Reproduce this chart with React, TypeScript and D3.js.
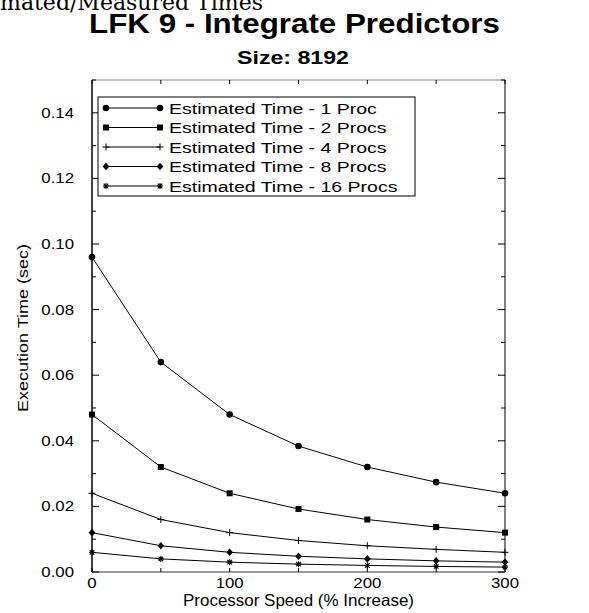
import React from "react";
import * as d3 from "d3";

const speeds = [0, 50, 100, 150, 200, 250, 300];
const seriesNames = [
  "Estimated Time - 1 Proc",
  "Estimated Time - 2 Procs",
  "Estimated Time - 4 Procs",
  "Estimated Time - 8 Procs",
  "Estimated Time - 16 Procs",
];
const proc1 = [0.096, 0.064, 0.048, 0.0384, 0.032, 0.0274, 0.024];
const proc2 = [0.048, 0.032, 0.024, 0.0192, 0.016, 0.0137, 0.012];
const proc4 = [0.024, 0.016, 0.012, 0.0096, 0.008, 0.0069, 0.006];
const proc8 = [0.012, 0.008, 0.006, 0.0048, 0.004, 0.0034, 0.003];
const proc16 = [0.006, 0.004, 0.003, 0.0024, 0.002, 0.0017, 0.0015];
const markers = ["circle", "square", "plus", "diamond", "star"];
const yTicks = [0, 0.02, 0.04, 0.06, 0.08, 0.1, 0.12, 0.14];
const xTicks = [0, 100, 200, 300];

const W = 589, H = 613;
const L = 92, R = 505, T = 80, B = 572;

function Marker({ type, x, y }: { type: string; x: number; y: number }) {
  if (type === "circle") return <circle cx={x} cy={y} r={3.3} fill="#000" />;
  if (type === "square") return <rect x={x - 3} y={y - 3} width={6} height={6} fill="#000" />;
  if (type === "plus")
    return (
      <path d={`M${x - 3.5},${y}H${x + 3.5}M${x},${y - 3.5}V${y + 3.5}`} stroke="#000" strokeWidth={1} />
    );
  if (type === "diamond")
    return <path d={`M${x},${y - 3.8}L${x + 3.3},${y}L${x},${y + 3.8}L${x - 3.3},${y}Z`} fill="#000" />;
  return (
    <path
      d={`M${x - 3},${y}H${x + 3}M${x},${y - 3}V${y + 3}M${x - 2.3},${y - 2.3}L${x + 2.3},${y + 2.3}M${x - 2.3},${y + 2.3}L${x + 2.3},${y - 2.3}`}
      stroke="#000"
      strokeWidth={1.1}
    />
  );
}

export default function App() {
  const x = d3.scaleLinear().domain([0, 300]).range([L, R]);
  const y = d3.scaleLinear().domain([0, 0.15]).range([B, T]);
  const all = [proc1, proc2, proc4, proc8, proc16];
  const line = d3
    .line<number>()
    .x((_, i) => x(speeds[i]))
    .y((d) => y(d));
  const xMinor = d3.range(0, 301, 50);
  const yMinor = d3.range(0, 0.1501, 0.01);
  const font = "'Liberation Sans', Arial, Helvetica, sans-serif";
  const legX = 98, legY = 97, legW = 317, legH = 99;
  return (
    <svg width={W} height={H} style={{ position: "absolute", left: 0, top: 0 }}>
      <rect width={W} height={H} fill="#fff" />
      <text x={263} y={10} textAnchor="end" fontFamily="'DejaVu Serif', 'Liberation Serif', serif" fontSize={22} fill="#000">
        Estimated/Measured Times
      </text>
      <text x={89} y={33} fontFamily={font} fontWeight="bold" fontSize={27.5} textLength={411} lengthAdjust="spacingAndGlyphs">
        LFK 9 - Integrate Predictors
      </text>
      <text x={237} y={64} fontFamily={font} fontWeight="bold" fontSize={18} textLength={112} lengthAdjust="spacingAndGlyphs">
        Size: 8192
      </text>
      {/* frame */}
      <line x1={L} x2={R} y1={T} y2={T} stroke="#888" strokeWidth={1} />
      <line x1={R} x2={R} y1={T} y2={B} stroke="#000" strokeWidth={1} />
      <line x1={L} x2={R} y1={B} y2={B} stroke="#777" strokeWidth={1.5} />
      <line x1={L} x2={L} y1={T} y2={B} stroke="#000" strokeWidth={1.5} />
      {xMinor.map((v) => (
        <g key={"xm" + v}>
          <line x1={x(v)} x2={x(v)} y1={B} y2={B - 4} stroke="#000" />
          <line x1={x(v)} x2={x(v)} y1={T} y2={T + 4} stroke="#000" />
        </g>
      ))}
      {yMinor.map((v, i) => (
        <g key={"ym" + i}>
          <line x1={L} x2={L + (i % 2 === 0 ? 7 : 4)} y1={y(v)} y2={y(v)} stroke="#000" />
          <line x1={R} x2={R - (i % 2 === 0 ? 7 : 4)} y1={y(v)} y2={y(v)} stroke="#000" />
        </g>
      ))}
      {yTicks.map((v) => (
        <g key={"yt" + v} transform={`translate(74,${y(v) + 5}) scale(1.2,1)`}>
          <text x={0} y={0} textAnchor="end" fontFamily={font} fontSize={14}>
            {v.toFixed(2)}
          </text>
        </g>
      ))}
      {xTicks.map((v) => (
        <g key={"xt" + v} transform={`translate(${x(v)},588) scale(1.2,1)`}>
          <text x={0} y={0} textAnchor="middle" fontFamily={font} fontSize={14}>
            {v}
          </text>
        </g>
      ))}
      <text x={183} y={606} fontFamily={font} fontSize={16.5} textLength={231} lengthAdjust="spacingAndGlyphs">
        Processor Speed (% Increase)
      </text>
      <text
        transform={`translate(28,412) rotate(-90)`}
        fontFamily={font}
        fontSize={15.5}
        textLength={168}
        lengthAdjust="spacingAndGlyphs"
      >
        Execution Time (sec)
      </text>
      {all.map((s, si) => (
        <g key={"s" + si}>
          <path d={line(s) || ""} fill="none" stroke="#000" strokeWidth={1} />
          {s.map((v, i) => (
            <Marker key={i} type={markers[si]} x={x(speeds[i])} y={y(v)} />
          ))}
        </g>
      ))}
      {/* legend */}
      <rect x={legX} y={legY} width={legW} height={legH} fill="#fff" stroke="#000" strokeWidth={1} />
      {seriesNames.map((n, i) => {
        const ly = 108 + i * 19.5;
        return (
          <g key={"l" + i}>
            <line x1={106} x2={160} y1={ly} y2={ly} stroke="#000" />
            <Marker type={markers[i]} x={106} y={ly} />
            <Marker type={markers[i]} x={160} y={ly} />
            <g transform={`translate(169,${ly + 5.5}) scale(1.3,1)`}>
              <text x={0} y={0} fontFamily={font} fontSize={15}>
                {n}
              </text>
            </g>
          </g>
        );
      })}
    </svg>
  );
}
